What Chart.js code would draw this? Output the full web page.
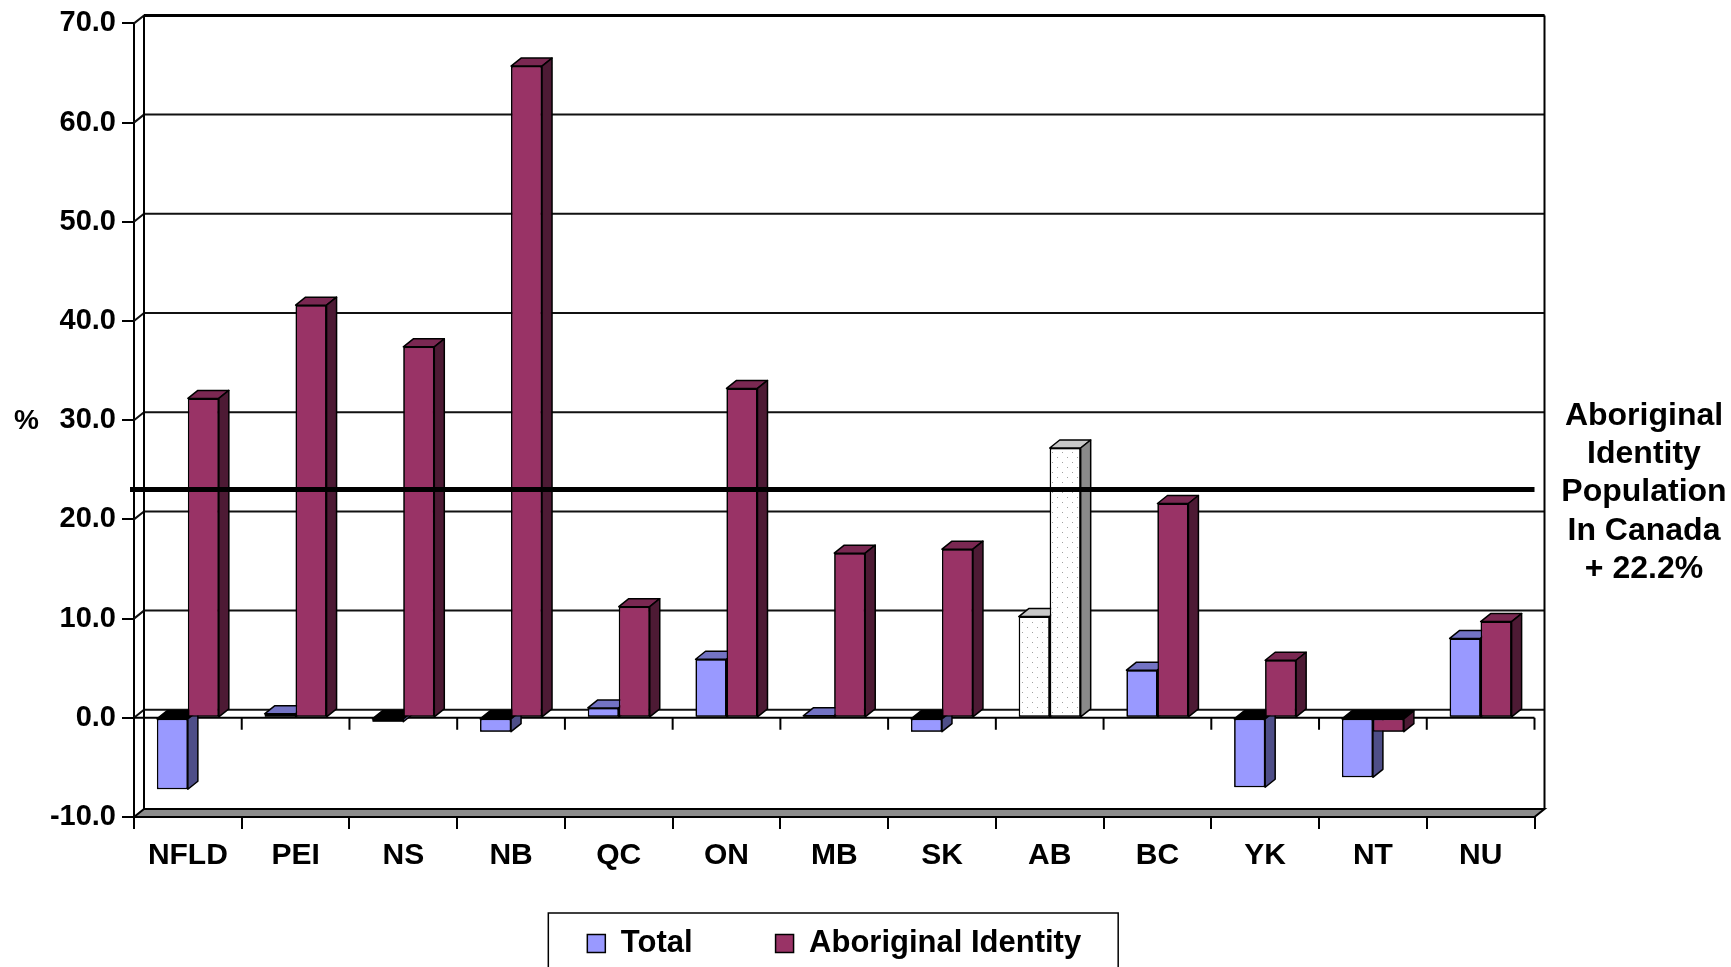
<!DOCTYPE html>
<html>
<head>
<meta charset="utf-8">
<script src="https://cdn.jsdelivr.net/npm/chart.js@4/dist/chart.umd.min.js"></script>
<style>
  html, body { margin: 0; padding: 0; background: #fff; }
  #wrap { width: 1731px; height: 967px; position: relative; }
</style>
</head>
<body>
<div id="wrap"><canvas id="c" width="1731" height="967"></canvas></div>
<script>
// Population change by province/territory, percent
const provinces = ['NFLD', 'PEI', 'NS', 'NB', 'QC', 'ON', 'MB', 'SK', 'AB', 'BC', 'YK', 'NT', 'NU'];
const totalChange = [-7.2, 0.4, -0.4, -1.4, 1.0, 5.9, 0.2, -1.4, 10.2, 4.8, -7.0, -6.0, 8.0];
const aboriginalChange = [32.2, 41.6, 37.4, 65.7, 11.2, 33.2, 16.6, 17.0, 27.2, 21.6, 5.8, -1.4, 9.7];
const seriesNames = ['Total', 'Aboriginal Identity'];
const canadaAboriginalChange = 22.2;
const yTicks = [-10, 0, 10, 20, 30, 40, 50, 60, 70];
const noteLines = ['Aboriginal', 'Identity', 'Population', 'In Canada',
                   '+ ' + canadaAboriginalChange.toFixed(1) + '%'];
const highlighted = 'AB';

const FONT = '"Liberation Sans", Arial, Helvetica, sans-serif';
const DX = 10, DY = 8;            // depth offset of the 3-D extrusion
const hiIndex = provinces.indexOf(highlighted);

const canvas = document.getElementById('c');
const mainCtx = canvas.getContext('2d');

// stippled fill used for the highlighted province
const tile = document.createElement('canvas');
tile.width = 10; tile.height = 10;
const tg = tile.getContext('2d');
tg.fillStyle = '#ffffff'; tg.fillRect(0, 0, 10, 10);
tg.fillStyle = '#a0a0a0'; tg.fillRect(2, 2, 1, 1); tg.fillRect(7, 7, 1, 1);
const dotted = mainCtx.createPattern(tile, 'repeat');

const palette = [
  { front: '#9999FF', top: '#7373C4', side: '#4E4E88' },
  { front: '#993366', top: '#7A2852', side: '#4D1A34' }
];
const hiFaces = { top: '#C8C8C8', side: '#8A8A8A' };

function poly(ctx, pts, fill) {
  ctx.beginPath();
  ctx.moveTo(pts[0][0], pts[0][1]);
  for (let i = 1; i < pts.length; i++) ctx.lineTo(pts[i][0], pts[i][1]);
  ctx.closePath();
  if (fill) { ctx.fillStyle = fill; ctx.fill(); }
  ctx.stroke();
}

// back wall, floor and base slab
const framePlugin = {
  id: 'frame3d',
  beforeDatasetsDraw(chart) {
    const ctx = chart.ctx, y = chart.scales.y, a = chart.chartArea;
    const yb = y.getPixelForValue(y.min);
    const yt = y.getPixelForValue(y.max);
    ctx.save();
    ctx.strokeStyle = '#000';
    ctx.lineJoin = 'miter';

    // base slab
    ctx.lineWidth = 2;
    poly(ctx, [[a.left, yb], [a.right, yb], [a.right + DX, yb - DY], [a.left + DX, yb - DY]], '#8c8c8c');

    // grid on the back wall with short returns to the front axis
    ctx.lineWidth = 2;
    ctx.strokeStyle = '#111';
    y.ticks.forEach(t => {
      if (t.value === y.min) return;
      const py = y.getPixelForValue(t.value);
      ctx.beginPath();
      ctx.moveTo(a.left, py);
      ctx.lineTo(a.left + DX, py - DY);
      ctx.lineTo(a.right + DX, py - DY);
      ctx.stroke();
    });
    ctx.lineWidth = 3;
    ctx.strokeStyle = '#000';
    ctx.beginPath();
    ctx.moveTo(a.left + DX, yt - DY); ctx.lineTo(a.right + DX, yt - DY);
    ctx.stroke();
    ctx.lineWidth = 2;
    ctx.beginPath();
    ctx.moveTo(a.left + DX, yt - DY); ctx.lineTo(a.left + DX, yb - DY);
    ctx.moveTo(a.right + DX, yt - DY); ctx.lineTo(a.right + DX, yb - DY);
    ctx.stroke();

    // front edge of the floor at zero with category ticks
    const y0 = y.getPixelForValue(0);
    ctx.lineWidth = 2;
    ctx.beginPath();
    ctx.moveTo(a.left, y0); ctx.lineTo(a.right, y0);
    const n = provinces.length;
    for (let k = 0; k <= n; k++) {
      const px = a.left + (a.right - a.left) * k / n;
      ctx.moveTo(px, y0); ctx.lineTo(px, y0 + 12);
    }
    ctx.stroke();
    ctx.restore();
  }
};

// bars are redrawn series by series so each bar's depth faces sit behind its neighbour
const barFacesPlugin = {
  id: 'barFaces',
  afterDatasetsDraw(chart) {
    const ctx = chart.ctx;
    chart.data.datasets.forEach((ds, di) => {
      const meta = chart.getDatasetMeta(di);
      const pal = palette[di];
      meta.data.forEach((bar, i) => {
        bar.draw(ctx, chart.chartArea);
        const p = bar.getProps(['x', 'y', 'base', 'width'], true);
        const l = p.x - p.width / 2, r = p.x + p.width / 2;
        const t = Math.min(p.y, p.base), b = Math.max(p.y, p.base);
        const neg = p.y > p.base;
        const topCol = neg ? '#000' : (i === hiIndex ? hiFaces.top : pal.top);
        const sideCol = i === hiIndex ? hiFaces.side : pal.side;
        ctx.save();
        ctx.strokeStyle = '#000';
        ctx.lineWidth = 1.5;
        ctx.lineJoin = 'round';
        poly(ctx, [[l, t], [r, t], [r + DX, t - DY], [l + DX, t - DY]], topCol);
        poly(ctx, [[r, t], [r + DX, t - DY], [r + DX, b - DY], [r, b]], sideCol);
        ctx.restore();
      });
    });

    // national reference level on the back wall
    const y = chart.scales.y, a = chart.chartArea;
    const py = y.getPixelForValue(canadaAboriginalChange) - DY;
    ctx.save();
    ctx.strokeStyle = '#000';
    ctx.lineWidth = 5;
    ctx.beginPath();
    ctx.moveTo(a.left - 4, py); ctx.lineTo(a.right, py);
    ctx.stroke();
    ctx.restore();
  }
};

// side note, unit label and legend frame
const notesPlugin = {
  id: 'notes',
  afterDraw(chart) {
    const ctx = chart.ctx, y = chart.scales.y, a = chart.chartArea;
    ctx.save();
    ctx.fillStyle = '#000';
    ctx.textAlign = 'center';
    ctx.textBaseline = 'middle';
    ctx.font = 'bold 32px ' + FONT;
    const py = y.getPixelForValue(canadaAboriginalChange) - DY;
    noteLines.forEach((s, k) => {
      ctx.fillText(s, chart.width - 87, py + 3 + (k - 2) * 38.4);
    });
    ctx.font = 'bold 28px ' + FONT;
    ctx.fillText('%', 26.5, (a.top + a.bottom) / 2 + 1);

    const hb = chart.legend.legendHitBoxes;
    if (hb && hb.length) {
      const left = hb[0].left - 39;
      const last = hb[hb.length - 1];
      const right = last.left + last.width + 37;
      const top = hb[0].top - 15;
      ctx.strokeStyle = '#000';
      ctx.lineWidth = 1.5;
      ctx.strokeRect(left, top, right - left, chart.height - top + 10);
    }
    ctx.restore();
  }
};

Chart.defaults.font.family = FONT;
Chart.defaults.color = '#000';

new Chart(canvas, {
  type: 'bar',
  data: {
    labels: provinces,
    datasets: [
      {
        label: seriesNames[0],
        data: totalChange,
        backgroundColor: c => (c.dataIndex === hiIndex ? dotted : palette[0].front),
        borderColor: '#000',
        borderWidth: 1.5,
        borderSkipped: false
      },
      {
        label: seriesNames[1],
        data: aboriginalChange,
        backgroundColor: c => (c.dataIndex === hiIndex ? dotted : palette[1].front),
        borderColor: '#000',
        borderWidth: 1.5,
        borderSkipped: false
      }
    ]
  },
  options: {
    responsive: false,
    animation: false,
    events: [],
    categoryPercentage: 0.575,
    barPercentage: 1.0,
    layout: { padding: { top: 19, right: 196.5, bottom: -2, left: 0 } },
    scales: {
      x: {
        grid: { display: true, drawOnChartArea: false, drawTicks: true, tickLength: 12,
                color: '#000', lineWidth: 2, offset: true },
        border: { display: true, color: '#000', width: 2 },
        // labels hang below the slab; mirror keeps them out of the axis clip box
        ticks: { font: { size: 30, weight: 'bold' }, color: '#000', mirror: true, padding: -57,
                 maxRotation: 0, autoSkip: false },
        afterFit(s) { s.height = 28; }
      },
      y: {
        min: -10,
        max: 70,
        afterBuildTicks(s) { s.ticks = yTicks.map(v => ({ value: v })); },
        grid: { display: true, drawOnChartArea: false, drawTicks: true, tickLength: 12,
                color: '#000', lineWidth: 2 },
        border: { display: true, color: '#000', width: 2 },
        ticks: { font: { size: 29, weight: 'bold' }, color: '#000', padding: 6,
                 callback: v => Number(v).toFixed(1) },
        afterFit(s) { s.width = 134; }
      }
    },
    plugins: {
      legend: {
        position: 'bottom',
        fullSize: false,
        labels: {
          boxWidth: 18,
          boxHeight: 18,
          padding: 83,
          font: { size: 31, weight: 'bold' },
          color: '#000'
        }
      },
      tooltip: { enabled: false }
    }
  },
  plugins: [framePlugin, barFacesPlugin, notesPlugin]
});
</script>
</body>
</html>
